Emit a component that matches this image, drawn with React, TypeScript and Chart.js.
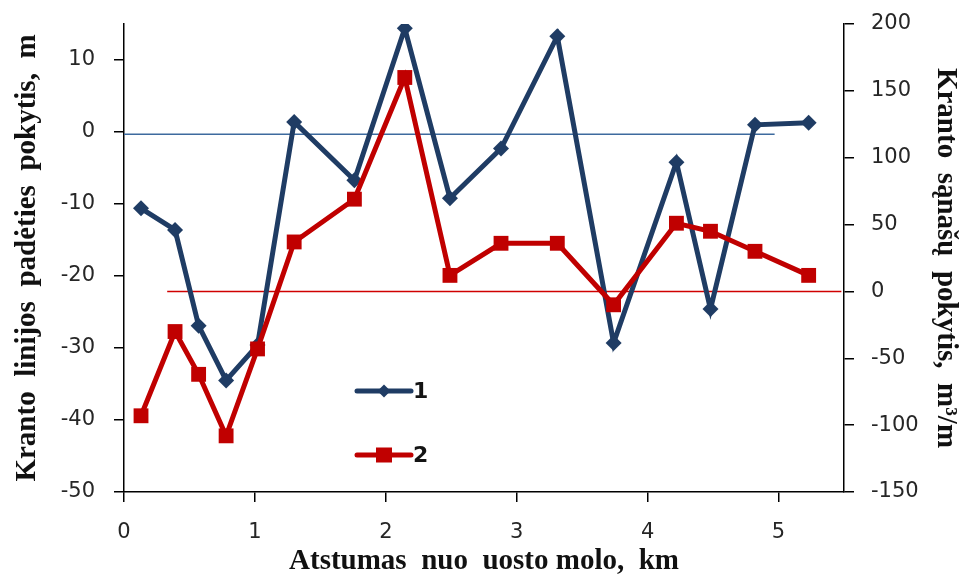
import React, { useEffect, useRef } from "react";
import { Chart, registerables } from "chart.js";

Chart.register(...registerables);

// Distance from the port mole, km (shared by both series)
const distanceKm = [0.13, 0.39, 0.57, 0.78, 1.02, 1.3, 1.76, 2.145, 2.49, 2.88, 3.31, 3.74, 4.22, 4.48, 4.82, 5.23];
// Series 1: shoreline position change, m (left axis)
const shorelineChange = [-10.6, -13.6, -26.9, -34.5, -29.6, 1.4, -6.7, 14.4, -9.2, -2.3, 13.3, -29.3, -4.2, -24.6, 1.0, 1.3];
// Series 2: shore sediment change, m3/m (right axis)
const sedimentChange = [-93, -30, -62, -108, -43, 37, 69, 160, 12, 36, 36, -10, 51, 45, 30, 12];

// Reference lines
const blueRefX = [0, 4.97];
const blueRefY = [-0.3, -0.3];
const redRefX = [0.33, 5.48];
const redRefY = [0, 0];

// Tick labels
const leftTicks = [-50, -40, -30, -20, -10, 0, 10];
const rightTicks = [-150, -100, -50, 0, 50, 100, 150, 200];
const xTicks = [0, 1, 2, 3, 4, 5];

const seriesLabels = ["1", "2"];
const xTitle = "Atstumas  nuo  uosto molo,  km";
const leftTitle = "Kranto  linijos  padėties  pokytis,  m";
const rightTitle = "Kranto  sąnašų  pokytis,  m³/m";

const BLUE = "#1f3c64";
const RED = "#c00000";
const REF_BLUE = "#3d6a9e";
const REF_RED = "#d00000";

const toXY = (xs: number[], ys: number[]) => xs.map((x, i) => ({ x, y: ys[i] }));

const legendPlugin = {
  id: "insideLegend",
  afterDatasetsDraw(chart: any) {
    const { ctx, chartArea } = chart;
    const entries = chart.data.datasets.filter((d: any) => d.inLegend);
    entries.sort((a: any, b: any) => a.legendIndex - b.legendIndex);
    const x0 = chartArea.left + 233;
    const len = 54;
    entries.forEach((d: any, i: number) => {
      const y = chartArea.top + 367 + i * 64;
      ctx.save();
      ctx.strokeStyle = d.borderColor;
      ctx.lineWidth = 5;
      ctx.lineCap = "round";
      ctx.beginPath();
      ctx.moveTo(x0, y);
      ctx.lineTo(x0 + len, y);
      ctx.stroke();
      ctx.fillStyle = d.borderColor;
      const cx = x0 + len / 2;
      if (d.pointStyle === "rectRot") {
        const r = 6.5;
        ctx.beginPath();
        ctx.moveTo(cx, y - r);
        ctx.lineTo(cx + r, y);
        ctx.lineTo(cx, y + r);
        ctx.lineTo(cx - r, y);
        ctx.closePath();
        ctx.fill();
      } else {
        ctx.fillRect(cx - 8, y - 7.5, 16, 15);
      }
      ctx.fillStyle = "#141414";
      ctx.font = "bold 22px 'DejaVu Sans'";
      ctx.textAlign = "left";
      ctx.textBaseline = "middle";
      ctx.fillText(d.label, x0 + len + 2, y + 1);
      ctx.restore();
    });
  },
};

export default function App() {
  const ref = useRef<HTMLCanvasElement | null>(null);

  useEffect(() => {
    if (!ref.current) return;
    const tickFont = { family: "'DejaVu Sans'", size: 21 };
    const titleFont = { family: "'Liberation Serif'", size: 29, weight: "bold" as const, lineHeight: 1 };
    const axisColor = "#000000";
    const noPad = (s: any) => {
      s.paddingTop = 0;
      s.paddingBottom = 0;
      s.paddingLeft = 0;
      s.paddingRight = 0;
    };
    const chart = new Chart(ref.current, {
      type: "line",
      data: {
        datasets: [
          {
            label: seriesLabels[1],
            data: toXY(distanceKm, sedimentChange),
            yAxisID: "y1",
            borderColor: RED,
            backgroundColor: RED,
            borderWidth: 5,
            pointStyle: "rect",
            pointRadius: 10.5,
            pointHoverRadius: 10.5,
            pointBorderWidth: 0,
            tension: 0,
            order: 1,
            inLegend: true,
            legendIndex: 1,
          } as any,
          {
            label: seriesLabels[0],
            data: toXY(distanceKm, shorelineChange),
            yAxisID: "y",
            borderColor: BLUE,
            backgroundColor: BLUE,
            borderWidth: 5,
            pointStyle: "rectRot",
            pointRadius: 8,
            pointHoverRadius: 8,
            pointBorderWidth: 0,
            tension: 0,
            order: 2,
            inLegend: true,
            legendIndex: 0,
          } as any,
          {
            label: "ref-blue",
            data: toXY(blueRefX, blueRefY),
            yAxisID: "y",
            borderColor: REF_BLUE,
            borderWidth: 1.5,
            pointRadius: 0,
            order: 3,
          } as any,
          {
            label: "ref-red",
            data: toXY(redRefX, redRefY),
            yAxisID: "y1",
            borderColor: REF_RED,
            borderWidth: 1.5,
            pointRadius: 0,
            order: 4,
          } as any,
        ],
      },
      options: {
        responsive: false,
        animation: false,
        events: [],
        layout: { padding: { top: 24, left: 0, right: 0, bottom: 0 } },
        plugins: {
          legend: { display: false },
          tooltip: { enabled: false },
          title: { display: false },
        },
        scales: {
          x: {
            type: "linear",
            min: 0,
            max: 5.5,
            afterBuildTicks: (s: any) => {
              s.ticks = xTicks.map((v) => ({ value: v }));
            },
            afterFit: (s: any) => {
              s.height = 85;
              noPad(s);
            },
            border: { display: true, color: axisColor, width: 1.5 },
            grid: { display: true, drawOnChartArea: false, drawTicks: true, tickLength: 10, color: axisColor, lineWidth: 1.5 },
            ticks: { font: tickFont, color: "#262626", padding: 18, maxRotation: 0, autoSkip: false },
            title: { display: true, text: xTitle, font: titleFont, color: "#111111", padding: { top: 0, bottom: 1 } },
          },
          y: {
            type: "linear",
            position: "left",
            min: -50,
            max: 15,
            afterBuildTicks: (s: any) => {
              s.ticks = leftTicks.map((v) => ({ value: v }));
            },
            afterFit: (s: any) => {
              s.width = 124;
              noPad(s);
            },
            border: { display: true, color: axisColor, width: 1.5 },
            grid: { display: true, drawOnChartArea: false, drawTicks: true, tickLength: 10, color: axisColor, lineWidth: 1.5 },
            ticks: { font: tickFont, color: "#262626", padding: 19, autoSkip: false },
            title: { display: true, text: leftTitle, font: titleFont, color: "#111111", padding: { top: 13, bottom: 0 } },
          },
          y1: {
            type: "linear",
            position: "right",
            min: -150,
            max: 200,
            afterBuildTicks: (s: any) => {
              s.ticks = rightTicks.map((v) => ({ value: v }));
            },
            afterFit: (s: any) => {
              s.width = 122;
              noPad(s);
            },
            border: { display: true, color: axisColor, width: 1.5 },
            grid: { display: true, drawOnChartArea: false, drawTicks: true, tickLength: 10, color: axisColor, lineWidth: 1.5 },
            ticks: { font: tickFont, color: "#262626", padding: 17, autoSkip: false },
            title: { display: true, text: rightTitle, font: titleFont, color: "#111111", padding: { top: 6, bottom: 0 } },
          },
        },
      },
      plugins: [legendPlugin],
    });
    return () => chart.destroy();
  }, []);

  return (
    <div style={{ position: "absolute", left: 0, top: 0, width: 966, height: 577, background: "#ffffff" }}>
      <canvas ref={ref} width={966} height={577} style={{ display: "block" }} />
    </div>
  );
}
